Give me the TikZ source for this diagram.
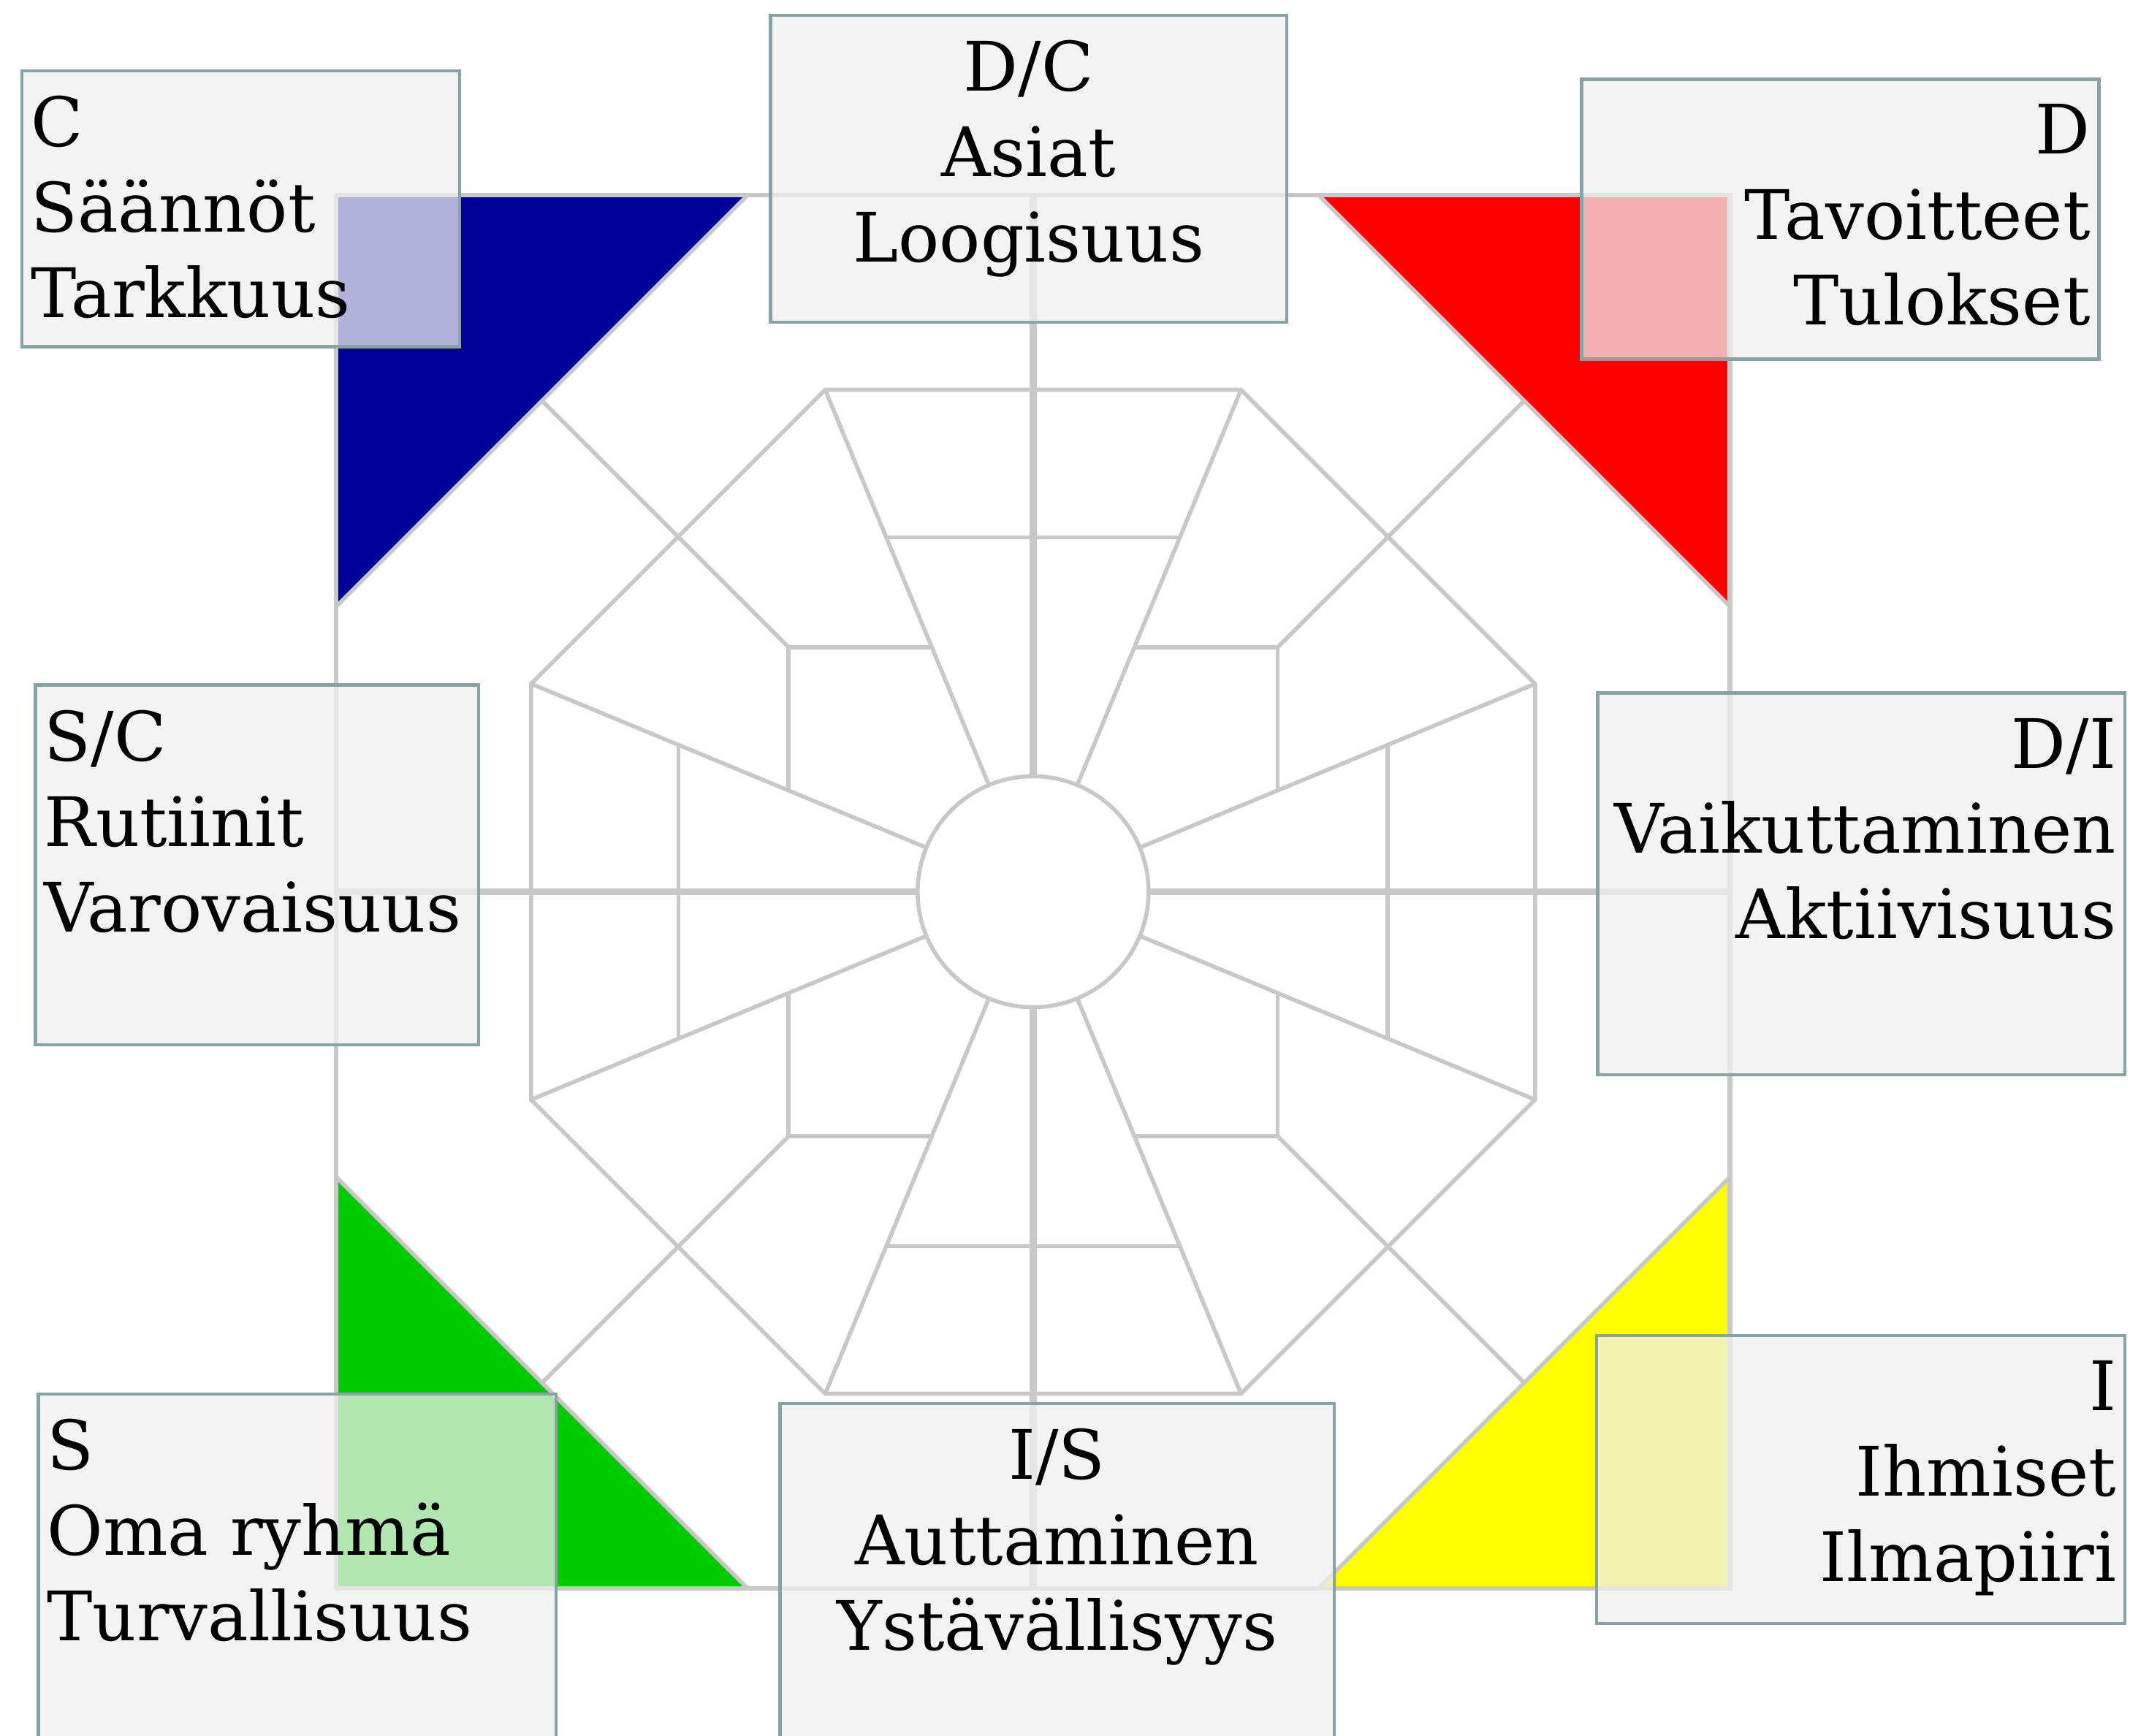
\documentclass[tikz,border=0pt]{standalone}
\usepackage{fontspec}
\setmainfont{DejaVu Serif}
\usetikzlibrary{calc}
\definecolor{discblue}{HTML}{000099}
\definecolor{discred}{HTML}{FF0000}
\definecolor{discgreen}{HTML}{00CC00}
\definecolor{discyellow}{HTML}{FFFF00}
\definecolor{gridgray}{HTML}{C8C8C8}
\definecolor{boxline}{HTML}{88A2A6}
\definecolor{boxfill}{HTML}{F0F0F0}

\begin{document}
\begin{tikzpicture}[
  gridline/.style={gridgray, line width=0.85pt},
  axisline/.style={gridgray, line width=1.5pt},
  profilebox/.style={draw=boxline, line width=0.7pt, fill=boxfill, fill opacity=0.74, inner sep=0, anchor=north west},
  profiletext/.style={inner sep=0, font=\fontsize{14.3}{17.9}\selectfont}
]
  \useasboundingbox (0,0) rectangle (15.68,-12.78);
  \fill[white] (0,0) rectangle (15.68,-12.78);

  % Profile wheel
  \begin{scope}[shift={(7.605,-6.565)}]
    % Corner triangles
    \fill[discblue] (-5.13,5.13) -- (-2.1,5.13) -- (-5.13,2.1) -- cycle;
    \fill[discred] (5.13,5.13) -- (2.1,5.13) -- (5.13,2.1) -- cycle;
    \fill[discgreen] (-5.13,-5.13) -- (-2.1,-5.13) -- (-5.13,-2.1) -- cycle;
    \fill[discyellow] (5.13,-5.13) -- (2.1,-5.13) -- (5.13,-2.1) -- cycle;

    % Outer square and cut corners
    \draw[gridline, line width=1pt] (-5.13,-5.13) rectangle (5.13,5.13);
    \draw[gridline] (-2.1,5.13) -- (-5.13,2.1);
    \draw[gridline] (2.1,5.13) -- (5.13,2.1);
    \draw[gridline] (-2.1,-5.13) -- (-5.13,-2.1);
    \draw[gridline] (2.1,-5.13) -- (5.13,-2.1);

    % Middle octagon
    \draw[gridline] (22.5:4) -- (67.5:4) -- (112.5:4) -- (157.5:4) -- (202.5:4) -- (247.5:4) -- (292.5:4) -- (337.5:4) -- cycle;

    % Radial spokes
    \foreach \angle in {22.5,67.5,...,337.5} {
      \draw[gridline] (\angle:0.85) -- (\angle:4);
    }

    % Axis spokes and cross bars
    \foreach \angle in {0,90,180,270} {
      \draw[axisline] (\angle:0.85) -- (\angle:5.13);
      \draw[gridline] (\angle-22.5:2.825) -- (\angle+22.5:2.825);
    }

    % Diagonal corners
    \foreach \sx/\sy in {1/1,-1/1,-1/-1,1/-1} {
      \draw[gridline] ({0.746*\sx},{1.8*\sy}) -- ({1.8*\sx},{1.8*\sy}) -- ({1.8*\sx},{0.746*\sy});
      \draw[gridline] ({1.8*\sx},{1.8*\sy}) -- ({3.615*\sx},{3.615*\sy});
    }

    % Centre circle
    \draw[gridline, fill=white] (0,0) circle (0.85);
  \end{scope}

  % Profile boxes
  \node[profilebox, minimum width=3.22cm, minimum height=2.03cm] (boxC) at (0.15,-0.51) {};
  \node[profiletext, anchor=north west, align=left] (txtC) at ($(boxC.north west)+(0.07,-0.19)$) {C\\Säännöt\\Tarkkuus};

  \node[profilebox, minimum width=3.80cm, minimum height=2.26cm] (boxDC) at (5.66,-0.10) {};
  \node[profiletext, anchor=north, align=center] (txtDC) at ($(boxDC.north)+(0,-0.19)$) {D/C\\Asiat\\Loogisuus};

  \node[profilebox, minimum width=3.81cm, minimum height=2.06cm] (boxD) at (11.63,-0.57) {};
  \node[profiletext, anchor=north east, align=right] (txtD) at ($(boxD.north east)+(-0.07,-0.19)$) {D\\Tavoitteet\\Tulokset};

  \node[profilebox, minimum width=3.26cm, minimum height=2.65cm] (boxSC) at (0.25,-5.03) {};
  \node[profiletext, anchor=north west, align=left] (txtSC) at ($(boxSC.north west)+(0.07,-0.19)$) {S/C\\Rutiinit\\Varovaisuus};

  \node[profilebox, minimum width=3.88cm, minimum height=2.81cm] (boxDI) at (11.75,-5.09) {};
  \node[profiletext, anchor=north east, align=right] (txtDI) at ($(boxDI.north east)+(-0.07,-0.19)$) {D/I\\Vaikuttaminen\\Aktiivisuus};

  \node[profilebox, minimum width=3.81cm, minimum height=2.80cm] (boxS) at (0.27,-10.25) {};
  \node[profiletext, anchor=north west, align=left] (txtS) at ($(boxS.north west)+(0.07,-0.19)$) {S\\Oma ryhmä\\Turvallisuus};

  \node[profilebox, minimum width=4.08cm, minimum height=2.70cm] (boxIS) at (5.73,-10.32) {};
  \node[profiletext, anchor=north, align=center] (txtIS) at ($(boxIS.north)+(0,-0.19)$) {I/S\\Auttaminen\\Ystävällisyys};

  \node[profilebox, minimum width=3.89cm, minimum height=2.12cm] (boxI) at (11.74,-9.82) {};
  \node[profiletext, anchor=north east, align=right] (txtI) at ($(boxI.north east)+(-0.07,-0.19)$) {I\\Ihmiset\\Ilmapiiri};
\end{tikzpicture}
\end{document}
